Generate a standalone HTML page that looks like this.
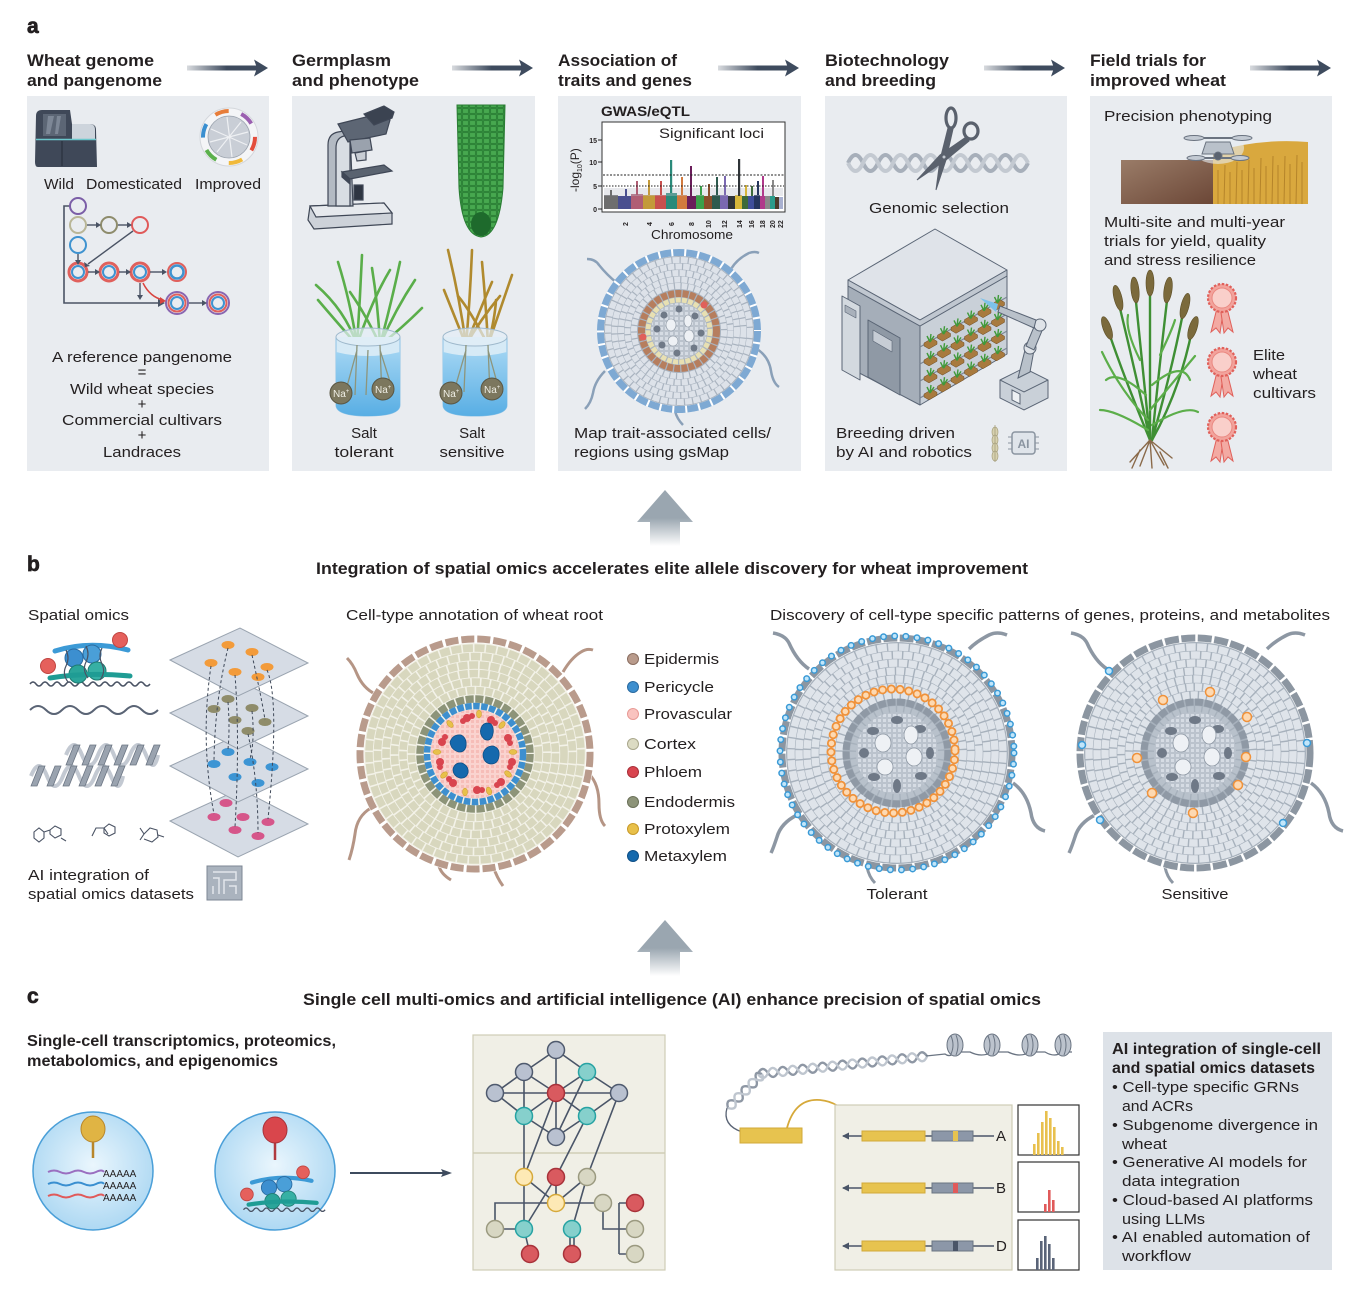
<!DOCTYPE html>
<html><head><meta charset="utf-8">
<style>
html,body{margin:0;padding:0;background:#fff;}
svg{display:block;}
text{font-family:"Liberation Sans",Arial,sans-serif;fill:#231f20;}
.h{font-weight:bold;font-size:17px;}
.t{font-size:15px;}
.s{font-size:13px;}
.L{font-weight:bold;font-size:21px;stroke:#231f20;stroke-width:0.7px;}
.tk{font-size:7px;font-weight:bold;}
</style></head><body>
<svg width="1365" height="1300" viewBox="0 0 1365 1300" xmlns="http://www.w3.org/2000/svg">
<defs>
 <linearGradient id="ag" x1="0" x2="1" y1="0" y2="0"><stop offset="0" stop-color="#3e4b5e" stop-opacity="0.2"/><stop offset="0.55" stop-color="#3e4b5e"/></linearGradient>
 <linearGradient id="ug" x1="0" y1="0" x2="0" y2="1"><stop offset="0.5" stop-color="#9aa6b0"/><stop offset="1" stop-color="#9aa6b0" stop-opacity="0"/></linearGradient>
 <linearGradient id="water" x1="0" y1="0" x2="0" y2="1"><stop offset="0" stop-color="#9fd3f2"/><stop offset="1" stop-color="#58aee4"/></linearGradient>
 <linearGradient id="soil" x1="0" y1="0" x2="1" y2="1"><stop offset="0" stop-color="#9a7c68"/><stop offset="1" stop-color="#6b4636"/></linearGradient>
 <radialGradient id="cellg" cx="0.5" cy="0.45" r="0.6"><stop offset="0" stop-color="#eaf6fd"/><stop offset="1" stop-color="#a9d6f2"/></radialGradient>
 <pattern id="mesh" width="5" height="5" patternUnits="userSpaceOnUse"><rect width="5" height="5" fill="#f6bdb8"/><rect x="0.5" y="0.5" width="4" height="4" fill="none" stroke="#fbd9d5" stroke-width="0.8"/></pattern>
 <pattern id="gmesh" width="5" height="5" patternUnits="userSpaceOnUse"><rect width="5" height="5" fill="#d6dce4"/><rect x="0.5" y="0.5" width="4" height="4" fill="none" stroke="#aab3bf" stroke-width="0.6"/></pattern>
 <pattern id="grn" width="7" height="6" patternUnits="userSpaceOnUse"><rect width="7" height="6" fill="#47a84f"/><rect x="0.6" y="0.6" width="5.8" height="4.8" fill="none" stroke="#2a7d34" stroke-width="0.9"/></pattern>
 <g id="ha"><rect x="0" y="-2.5" width="72" height="5" fill="url(#ag)"/><path d="M67,-8.5 L81,0 L67,8.5 L70,0Z" fill="#3e4b5e"/></g>
 <g id="pot"><path d="M0,0 l8,-4.6 l5,2.9 l0,3 l-8,4.6 l-5,-2.9z" fill="#a87a3e" stroke="#6e4a22" stroke-width="0.5"/><path d="M6,-1 l-3,-6 M6,-1 l1,-8 M6,-1 l4,-6" stroke="#3f9a3a" stroke-width="1.4" fill="none"/></g>
 <g id="ros">
  <path d="M-4,6 L-11,34 L-6,30 L-2,35 L2,8Z" fill="#f3aaa3" stroke="#e0605a" stroke-width="1"/>
  <path d="M4,6 L11,34 L6,30 L2,35 L-2,8Z" fill="#f3aaa3" stroke="#e0605a" stroke-width="1"/>
  <circle r="14" fill="#f2a39c" stroke="#e0605a" stroke-width="2.2" stroke-dasharray="2.5 1.6"/>
  <circle r="10" fill="#f9cfca" stroke="#ea8880" stroke-width="1"/>
 </g>
 <g id="groot">
  <path d="M-88,-84 Q-100,-92 -108,-110 Q-112,-118 -124,-120" stroke="#8d97a3" stroke-width="3.5" fill="none"/>
  <path d="M72,-104 Q80,-112 92,-118 Q100,-122 110,-118" stroke="#8d97a3" stroke-width="3.5" fill="none"/>
  <path d="M116,30 Q130,40 134,60 Q136,75 148,78" stroke="#8d97a3" stroke-width="3.5" fill="none"/>
  <path d="M-100,62 Q-116,70 -120,84 Q-124,96 -126,100" stroke="#8d97a3" stroke-width="3.5" fill="none"/>
  <path d="M-30,114 Q-28,124 -22,130" stroke="#8d97a3" stroke-width="3" fill="none"/>
  <circle r="119" fill="#fff"/>
  <circle r="115" fill="none" stroke="#8c96a1" stroke-width="7" stroke-dasharray="14 2.5"/>
  <circle r="111" fill="#a7b1bc"/>
  <circle r="106" fill="none" stroke="#dfe4ea" stroke-width="7.4" stroke-dasharray="9.5 1.4"/>
  <circle r="98" fill="none" stroke="#dfe4ea" stroke-width="7.4" stroke-dasharray="9 1.4"/>
  <circle r="90" fill="none" stroke="#dfe4ea" stroke-width="7.4" stroke-dasharray="8.5 1.4"/>
  <circle r="82" fill="none" stroke="#dfe4ea" stroke-width="7.4" stroke-dasharray="8 1.4"/>
  <circle r="74" fill="none" stroke="#dfe4ea" stroke-width="7.4" stroke-dasharray="7.5 1.4"/>
  <circle r="66" fill="none" stroke="#dfe4ea" stroke-width="7.4" stroke-dasharray="7 1.4"/>
  <circle r="58" fill="none" stroke="#dfe4ea" stroke-width="7.4" stroke-dasharray="7 1.4"/>
  <circle r="51" fill="none" stroke="#8f99a5" stroke-width="7" stroke-dasharray="8 1.6"/>
  <circle r="44" fill="none" stroke="#b8c1cb" stroke-width="6" stroke-dasharray="6 1.4"/>
  <circle r="41" fill="url(#gmesh)"/>
  <g fill="#6f7987">
   <ellipse cx="0" cy="-33" rx="6" ry="4"/><ellipse cx="23" cy="-24" rx="6" ry="4"/><ellipse cx="33" cy="0" rx="4" ry="6"/><ellipse cx="24" cy="23" rx="6" ry="4"/><ellipse cx="0" cy="33" rx="4" ry="7"/><ellipse cx="-23" cy="24" rx="6" ry="4"/><ellipse cx="-33" cy="0" rx="5" ry="5"/><ellipse cx="-24" cy="-22" rx="6" ry="4"/>
  </g>
  <g fill="#eef1f5" stroke="#8d97a3" stroke-width="0.8">
   <ellipse cx="-14" cy="-10" rx="8" ry="9"/><ellipse cx="14" cy="-18" rx="7" ry="9"/><ellipse cx="17" cy="4" rx="8" ry="9"/><ellipse cx="-12" cy="14" rx="8" ry="8"/>
  </g>
 </g>
</defs>

<rect width="1365" height="1300" fill="#fff"/>

<!-- ================= PANEL A ================= -->
<text x="27" y="33" class="L">a</text>

<text x="27" y="66" class="h" textLength="127" lengthAdjust="spacingAndGlyphs">Wheat genome</text>
<text x="27" y="86" class="h" textLength="135" lengthAdjust="spacingAndGlyphs">and pangenome</text>
<text x="292" y="66" class="h" textLength="99" lengthAdjust="spacingAndGlyphs">Germplasm</text>
<text x="292" y="86" class="h" textLength="127" lengthAdjust="spacingAndGlyphs">and phenotype</text>
<text x="558" y="66" class="h" textLength="119" lengthAdjust="spacingAndGlyphs">Association of</text>
<text x="558" y="86" class="h" textLength="134" lengthAdjust="spacingAndGlyphs">traits and genes</text>
<text x="825" y="66" class="h" textLength="124" lengthAdjust="spacingAndGlyphs">Biotechnology</text>
<text x="825" y="86" class="h" textLength="111" lengthAdjust="spacingAndGlyphs">and breeding</text>
<text x="1090" y="66" class="h" textLength="116" lengthAdjust="spacingAndGlyphs">Field trials for</text>
<text x="1090" y="86" class="h" textLength="136" lengthAdjust="spacingAndGlyphs">improved wheat</text>

<use href="#ha" transform="translate(187,68)"/>
<use href="#ha" transform="translate(452,68)"/>
<use href="#ha" transform="translate(718,68)"/>
<use href="#ha" transform="translate(984,68)"/>
<use href="#ha" transform="translate(1250,68)"/>

<rect x="27" y="96" width="242" height="375" fill="#e9ecf0"/>
<rect x="292" y="96" width="243" height="375" fill="#e9ecf0"/>
<rect x="558" y="96" width="243" height="375" fill="#e9ecf0"/>
<rect x="825" y="96" width="242" height="375" fill="#e9ecf0"/>
<rect x="1090" y="96" width="242" height="375" fill="#e9ecf0"/>

<!-- Box 1 -->
<path d="M36,116 Q36,110 42,110 L70,110 L72,124 L90,124 Q96,124 96,130 L97,167 L38,167 Q35,167 35,162 Z" fill="#3f4858"/>
<path d="M43,114 L66,114 L66,136 L43,136Z" fill="#5c6675"/>
<path d="M48,116 L54,116 L50,134 L46,134Z M57,116 L61,116 L58,134 L55,134Z" fill="#7d8796"/>
<path d="M72,124 L90,124 Q95,124 95,130 L95,139 L72,139Z" fill="#cdd4dc"/>
<line x1="36" y1="139.5" x2="96" y2="139.5" stroke="#6cc7cc" stroke-width="1.6"/>
<line x1="62" y1="141" x2="62" y2="166" stroke="#2a313d" stroke-width="1.2"/>

<g transform="translate(229,137)">
 <circle r="29" fill="#f4f5f7" stroke="#d4d7dc"/>
 <circle r="26" fill="none" stroke="#e34d3c" stroke-width="4" stroke-dasharray="14 149"/>
 <circle r="26" fill="none" stroke="#f0b93a" stroke-width="4" stroke-dasharray="14 149" stroke-dashoffset="-27"/>
 <circle r="26" fill="none" stroke="#5bb04c" stroke-width="4" stroke-dasharray="14 149" stroke-dashoffset="-54"/>
 <circle r="26" fill="none" stroke="#3a8fd0" stroke-width="4" stroke-dasharray="14 149" stroke-dashoffset="-81"/>
 <circle r="26" fill="none" stroke="#e77d3a" stroke-width="4" stroke-dasharray="14 149" stroke-dashoffset="-108"/>
 <circle r="26" fill="none" stroke="#9a5fb0" stroke-width="4" stroke-dasharray="14 149" stroke-dashoffset="-135"/>
 <circle r="21" fill="#c9ced6" stroke="#9aa2ad" stroke-width="0.8"/>
 <path d="M-18,-8 L18,8 M-12,15 L12,-15 M-2,-20 L3,20 M-19,5 L19,-5" stroke="#eef0f3" stroke-width="1.2"/>
</g>

<text x="44" y="189" class="t" textLength="30" lengthAdjust="spacingAndGlyphs">Wild</text>
<text x="86" y="189" class="t" textLength="96" lengthAdjust="spacingAndGlyphs">Domesticated</text>
<text x="195" y="189" class="t" textLength="66" lengthAdjust="spacingAndGlyphs">Improved</text>

<!-- pangenome circles -->
<g fill="none" stroke-width="2">
 <path d="M70,206 L64,206 L64,303 L162,303" stroke="#4a5364" stroke-width="1.6"/>
 <path d="M158,299 L165,303 L158,307Z" fill="#4a5364" stroke="none"/>
 <circle cx="78" cy="206" r="8" stroke="#7b5ea7"/>
 <circle cx="78" cy="225" r="8" stroke="#b9b697"/>
 <circle cx="109" cy="225" r="8" stroke="#8e8c6c"/>
 <circle cx="140" cy="225" r="8" stroke="#e05a5a"/>
 <circle cx="78" cy="245" r="8" stroke="#3f93d0"/>
 <g>
  <circle cx="78" cy="272" r="9" stroke="#e0605c" stroke-width="3"/><circle cx="78" cy="272" r="6" stroke="#3f93d0"/>
  <circle cx="109" cy="272" r="9" stroke="#e0605c" stroke-width="3"/><circle cx="109" cy="272" r="6" stroke="#3f93d0"/>
  <circle cx="140" cy="272" r="9" stroke="#e0605c" stroke-width="3"/><circle cx="140" cy="272" r="6" stroke="#3f93d0"/>
  <circle cx="177" cy="272" r="9" stroke="#e0605c" stroke-width="2"/><circle cx="177" cy="272" r="6.5" stroke="#3f93d0" stroke-width="2.5"/>
  <circle cx="177" cy="303" r="11" stroke="#8a66b0" stroke-width="2"/><circle cx="177" cy="303" r="8.5" stroke="#e0605c" stroke-width="2"/><circle cx="177" cy="303" r="6" stroke="#3f93d0" stroke-width="2"/>
  <circle cx="218" cy="303" r="11" stroke="#8a66b0" stroke-width="2"/><circle cx="218" cy="303" r="8.5" stroke="#e0605c" stroke-width="2"/><circle cx="218" cy="303" r="6" stroke="#3f93d0" stroke-width="2"/>
 </g>
 <g stroke="#4a5364" stroke-width="1.4">
  <line x1="87" y1="225" x2="97" y2="225"/><line x1="118" y1="225" x2="128" y2="225"/>
  <line x1="133" y1="231" x2="88" y2="264"/>
  <line x1="78" y1="254" x2="78" y2="261"/>
  <line x1="88" y1="272" x2="96" y2="272"/><line x1="119" y1="272" x2="127" y2="272"/><line x1="150" y1="272" x2="163" y2="272"/>
  <line x1="140" y1="283" x2="140" y2="296"/>
  <line x1="189" y1="303" x2="203" y2="303"/>
 </g>
 <g fill="#4a5364" stroke="none">
  <path d="M96,222 L101,225 L96,228Z"/><path d="M127,222 L132,225 L127,228Z"/>
  <path d="M84,262 L90,266 L85,267Z"/><path d="M75,260 L78,265 L81,260Z"/>
  <path d="M95,269 L100,272 L95,275Z"/><path d="M126,269 L131,272 L126,275Z"/><path d="M162,269 L167,272 L162,275Z"/>
  <path d="M137,295 L140,300 L143,295Z"/><path d="M202,300 L207,303 L202,306Z"/>
 </g>
 <path d="M143,283 Q150,297 163,300" stroke="#d9443f" stroke-width="1.5"/>
 <path d="M160,297 L166,301 L160,304Z" fill="#d9443f" stroke="none"/>
</g>

<g class="t" text-anchor="middle">
 <text x="142" y="362" textLength="180" lengthAdjust="spacingAndGlyphs">A reference pangenome</text>
 <text x="142" y="377">=</text>
 <text x="142" y="394" textLength="144" lengthAdjust="spacingAndGlyphs">Wild wheat species</text>
 <text x="142" y="409">+</text>
 <text x="142" y="425" textLength="160" lengthAdjust="spacingAndGlyphs">Commercial cultivars</text>
 <text x="142" y="440">+</text>
 <text x="142" y="457" textLength="78" lengthAdjust="spacingAndGlyphs">Landraces</text>
</g>

<!-- Box 2 microscope -->
<g stroke="#3f4756" stroke-width="1.2">
 <path d="M310,206 L384,203 L392,213 L392,224 L314,229 L308,220 Z" fill="#cdd2d9"/>
 <path d="M310,206 L384,203 L392,213 L316,217Z" fill="#e6e9ed"/>
 <path d="M328,206 L328,145 Q328,134 338,132 L350,130 L353,206Z" fill="#b3bac3"/>
 <path d="M336,206 L336,148 Q336,138 344,136 L350,136 L350,206Z" fill="#d8dde3"/>
 <path d="M338,124 L378,114 L390,120 L386,134 L348,142 Z" fill="#5d6674"/>
 <path d="M364,114 L384,106 L394,112 L392,118 L374,125Z" fill="#3b4351"/>
 <path d="M350,140 L370,138 L372,150 L352,153Z" fill="#9aa2ad"/>
 <path d="M355,153 L366,151 L366,160 L357,161Z" fill="#c8cdd4"/>
 <path d="M342,172 L384,165 L392,171 L350,179 Z" fill="#5a6370"/>
 <path d="M342,172 L350,179 L350,184 L342,177Z" fill="#3f4756"/>
 <rect x="354" y="185" width="9" height="15" fill="#2e3542"/>
</g>

<!-- root tip -->
<path d="M457,105 L505,105 L503,188 Q499,236 481,237 Q462,235 459,188 Z" fill="url(#grn)" stroke="#2a7d34" stroke-width="1"/>
<ellipse cx="481" cy="224" rx="10" ry="12" fill="#1e6a2c"/>

<!-- plants -->
<g fill="none" stroke-linecap="round">
 <g stroke="#5aae4a" stroke-width="2.6">
  <path d="M357,345 Q350,300 338,262"/><path d="M357,345 Q345,310 316,285"/><path d="M357,345 Q360,300 362,255"/><path d="M357,345 Q372,300 390,270"/><path d="M357,345 Q335,320 318,300"/>
  <path d="M380,345 Q378,305 372,268"/><path d="M380,345 Q395,310 415,280"/><path d="M380,345 Q392,300 400,262"/><path d="M380,345 Q400,330 422,308"/><path d="M380,345 Q366,315 350,292"/>
 </g>
 <g stroke="#b08a2e" stroke-width="2.6">
  <path d="M466,345 Q460,300 448,250"/><path d="M466,345 Q452,310 444,290"/><path d="M466,345 Q470,300 472,250"/><path d="M466,345 Q480,310 492,282"/><path d="M466,345 Q480,320 500,296"/>
  <path d="M488,345 Q486,305 482,262"/><path d="M488,345 Q500,310 512,275"/><path d="M488,345 Q470,310 458,296"/><path d="M488,345 Q495,318 496,300"/>
 </g>
</g>
<g>
 <path d="M336,337 L336,405 Q336,416 368,416 Q400,416 400,405 L400,337" fill="#d6eaf6" stroke="#8fc3e6" stroke-width="1"/>
 <path d="M336,352 Q368,360 400,352 L400,405 Q400,416 368,416 Q336,416 336,405Z" fill="url(#water)"/>
 <ellipse cx="368" cy="337" rx="32" ry="9" fill="#e3eef6" fill-opacity="0.7" stroke="#9fb9cc"/>
 <path d="M357,345 L355,395 M357,350 L346,390 M380,345 L382,398 M380,350 L392,388 M368,350 L366,395" stroke="#8d957c" stroke-width="1.3" fill="none"/>
 <path d="M443,337 L443,405 Q443,416 475,416 Q507,416 507,405 L507,337" fill="#d6eaf6" stroke="#8fc3e6" stroke-width="1"/>
 <path d="M443,352 Q475,360 507,352 L507,405 Q507,416 475,416 Q443,416 443,405Z" fill="url(#water)"/>
 <ellipse cx="475" cy="337" rx="32" ry="9" fill="#e3eef6" fill-opacity="0.7" stroke="#9fb9cc"/>
 <path d="M466,345 L464,392 M466,350 L455,388 M488,345 L490,395 M488,350 L498,386" stroke="#8d957c" stroke-width="1.3" fill="none"/>
 <g fill="#7c775e" stroke="#5a5643" stroke-width="1">
  <circle cx="341" cy="393" r="11"/><circle cx="383" cy="389" r="11"/><circle cx="451" cy="393" r="11"/><circle cx="492" cy="389" r="11"/>
 </g>
 <g font-size="10" style="fill:#f0efe6">
  <text x="333" y="397" style="fill:#f0efe6">Na<tspan font-size="6" dy="-4">+</tspan></text>
  <text x="375" y="393" style="fill:#f0efe6">Na<tspan font-size="6" dy="-4">+</tspan></text>
  <text x="443" y="397" style="fill:#f0efe6">Na<tspan font-size="6" dy="-4">+</tspan></text>
  <text x="484" y="393" style="fill:#f0efe6">Na<tspan font-size="6" dy="-4">+</tspan></text>
 </g>
</g>
<g class="t" text-anchor="middle">
 <text x="364" y="438">Salt</text><text x="364" y="457" textLength="59" lengthAdjust="spacingAndGlyphs">tolerant</text>
 <text x="472" y="438">Salt</text><text x="472" y="457" textLength="65" lengthAdjust="spacingAndGlyphs">sensitive</text>
</g>

<!-- Box 3 GWAS -->
<text x="601" y="116" font-weight="bold" font-size="14" textLength="89" lengthAdjust="spacingAndGlyphs">GWAS/eQTL</text>
<rect x="602" y="122" width="183" height="90" fill="#fff" stroke="#333" stroke-width="1"/>
<text x="659" y="138" font-size="14" textLength="105" lengthAdjust="spacingAndGlyphs">Significant loci</text>
<g>
 <rect x="604" y="195" width="14" height="14" fill="#6e6e6e"/><rect x="618" y="196" width="13" height="13" fill="#4a4f8f"/><rect x="631" y="194" width="12" height="15" fill="#b05e74"/><rect x="643" y="195" width="12" height="14" fill="#c39a3a"/><rect x="655" y="195" width="11" height="14" fill="#c8504e"/><rect x="666" y="193" width="11" height="16" fill="#2a8a7a"/><rect x="677" y="195" width="10" height="14" fill="#d27a3e"/><rect x="687" y="196" width="9" height="13" fill="#6a1d5a"/><rect x="696" y="195" width="8" height="14" fill="#3aa04a"/><rect x="704" y="196" width="8" height="13" fill="#8a4e2a"/><rect x="712" y="195" width="8" height="14" fill="#2e5a4e"/><rect x="720" y="195" width="8" height="14" fill="#7a68b0"/><rect x="728" y="196" width="7" height="13" fill="#2f3438"/><rect x="735" y="195" width="7" height="14" fill="#d6b63a"/><rect x="742" y="196" width="6" height="13" fill="#3d6a3a"/><rect x="748" y="196" width="6" height="13" fill="#3f4f9a"/><rect x="754" y="195" width="6" height="14" fill="#25365e"/><rect x="760" y="196" width="5" height="13" fill="#b03a8a"/><rect x="765" y="196" width="5" height="13" fill="#8a8a8a"/><rect x="770" y="196" width="5" height="13" fill="#2a9a8a"/><rect x="775" y="197" width="4" height="12" fill="#4a3a2a"/><rect x="779" y="197" width="4" height="12" fill="#a8b0d0"/>
 <rect x="604" y="188" width="179" height="8" fill="#b9bcc8" opacity="0.35"/>
 <rect x="610" y="190" width="2" height="6" fill="#6e6e6e"/><rect x="625" y="189" width="2" height="7" fill="#4a4f8f"/><rect x="636" y="181" width="2" height="14" fill="#b05e74"/><rect x="648" y="180" width="2" height="15" fill="#c39a3a"/><rect x="660" y="181" width="2" height="14" fill="#c8504e"/><rect x="670" y="160" width="2.2" height="33" fill="#2a8a7a"/><rect x="681" y="177" width="2" height="18" fill="#d27a3e"/><rect x="690" y="166" width="2" height="30" fill="#6a1d5a"/><rect x="700" y="186" width="2" height="9" fill="#3aa04a"/><rect x="708" y="184" width="2" height="12" fill="#8a4e2a"/><rect x="716" y="177" width="2" height="18" fill="#2e5a4e"/><rect x="724" y="176" width="2" height="19" fill="#7a68b0"/><rect x="738" y="159" width="2.2" height="37" fill="#2f3438"/><rect x="745" y="185" width="2" height="11" fill="#d6b63a"/><rect x="751" y="186" width="2" height="10" fill="#3d6a3a"/><rect x="757" y="181" width="2" height="14" fill="#25365e"/><rect x="762" y="176" width="2" height="20" fill="#b03a8a"/><rect x="772" y="180" width="2" height="16" fill="#8a8a8a"/>
 <line x1="603" y1="175" x2="784" y2="175" stroke="#222" stroke-width="1" stroke-dasharray="2 1.5"/>
 <line x1="603" y1="186" x2="784" y2="186" stroke="#222" stroke-width="1" stroke-dasharray="1.5 1.5"/>
</g>
<g class="tk" text-anchor="end">
 <text x="597" y="143">15</text><text x="597" y="165">10</text><text x="597" y="189">5</text><text x="597" y="212">0</text>
</g>
<g stroke="#222" stroke-width="1"><line x1="598" y1="140" x2="602" y2="140"/><line x1="598" y1="162" x2="602" y2="162"/><line x1="598" y1="186" x2="602" y2="186"/><line x1="598" y1="209" x2="602" y2="209"/></g>
<text transform="translate(579,192) rotate(-90)" font-size="12">-log<tspan font-size="7" dy="3">10</tspan><tspan dy="-3">(P)</tspan></text>
<g class="tk">
 <text transform="translate(628,226) rotate(-90)">2</text><text transform="translate(652,226) rotate(-90)">4</text><text transform="translate(674,226) rotate(-90)">6</text><text transform="translate(694,226) rotate(-90)">8</text><text transform="translate(711,228) rotate(-90)">10</text><text transform="translate(727,228) rotate(-90)">12</text><text transform="translate(742,228) rotate(-90)">14</text><text transform="translate(754,228) rotate(-90)">16</text><text transform="translate(765,228) rotate(-90)">18</text><text transform="translate(775,228) rotate(-90)">20</text><text transform="translate(783,228) rotate(-90)">22</text>
</g>
<text x="692" y="239" font-size="13" text-anchor="middle" textLength="82" lengthAdjust="spacingAndGlyphs">Chromosome</text>

<!-- box3 root -->
<g transform="translate(679,331)">
 <path d="M-62,-48 Q-72,-56 -80,-66 Q-84,-72 -92,-72" stroke="#8aa0b8" stroke-width="2.5" fill="none"/>
 <path d="M52,-62 Q58,-72 70,-78 Q76,-80 80,-78" stroke="#8aa0b8" stroke-width="2.5" fill="none"/>
 <path d="M78,18 Q90,26 92,40 Q94,52 100,56" stroke="#8aa0b8" stroke-width="2.5" fill="none"/>
 <path d="M-74,40 Q-84,50 -86,62 Q-88,72 -94,78" stroke="#8aa0b8" stroke-width="2.5" fill="none"/>
 <path d="M-4,80 Q-2,88 4,94" stroke="#8aa0b8" stroke-width="2.5" fill="none"/>
 <circle r="82" fill="#fff"/>
 <circle r="78.5" fill="none" stroke="#7ea9d3" stroke-width="7" stroke-dasharray="11 2"/>
 <circle r="75" fill="#a9b3bf"/>
 <circle r="71" fill="none" stroke="#dde2e9" stroke-width="6" stroke-dasharray="7 1.2"/>
 <circle r="64.5" fill="none" stroke="#dde2e9" stroke-width="6" stroke-dasharray="6.5 1.2"/>
 <circle r="58" fill="none" stroke="#dde2e9" stroke-width="6" stroke-dasharray="6 1.2"/>
 <circle r="51.5" fill="none" stroke="#dde2e9" stroke-width="6" stroke-dasharray="6 1.2"/>
 <circle r="45" fill="none" stroke="#dde2e9" stroke-width="6" stroke-dasharray="5.5 1.2"/>
 <circle r="37.5" fill="none" stroke="#b67e5e" stroke-width="7" stroke-dasharray="6 1.2"/>
 <circle r="31" fill="none" stroke="#e8e0b2" stroke-width="5" stroke-dasharray="5 1.2"/>
 <circle r="28" fill="url(#gmesh)"/>
 <g fill="#6f7987"><circle cx="0" cy="-22" r="3.5"/><circle cx="16" cy="-15" r="3.5"/><circle cx="22" cy="2" r="3.5"/><circle cx="15" cy="17" r="3.5"/><circle cx="-2" cy="22" r="3.5"/><circle cx="-17" cy="14" r="3.5"/><circle cx="-22" cy="-2" r="3.5"/><circle cx="-15" cy="-16" r="3.5"/></g>
 <g fill="#eef1f5" stroke="#8d97a3" stroke-width="0.6"><ellipse cx="-8" cy="-6" rx="5" ry="6"/><ellipse cx="9" cy="-10" rx="4" ry="6"/><ellipse cx="10" cy="5" rx="5" ry="6"/><ellipse cx="-6" cy="10" rx="5" ry="5"/></g>
 <circle cx="25" cy="-26" r="3.5" fill="#e0605a"/><circle cx="-36" cy="6" r="3.5" fill="#e0605a"/>
</g>
<text x="574" y="438" class="t" textLength="197" lengthAdjust="spacingAndGlyphs">Map trait-associated cells/</text>
<text x="574" y="457" class="t" textLength="155" lengthAdjust="spacingAndGlyphs">regions using gsMap</text>

<!-- Box 4 -->
<g fill="none" stroke="#a7afba" stroke-width="4">
 <path d="M848,163 q7.5,-16 15,0 t15,0 t15,0 t15,0 t15,0 t15,0 t15,0 t15,0 t15,0 t15,0 t15,0 t15,0"/>
 <path d="M848,163 q7.5,16 15,0 t15,0 t15,0 t15,0 t15,0 t15,0 t15,0 t15,0 t15,0 t15,0 t15,0 t15,0" stroke="#c3c9d1"/>
</g>
<g fill="#5a616d" stroke="#5a616d">
 <ellipse cx="951" cy="118" rx="5" ry="10" fill="none" stroke-width="3.2"/>
 <ellipse cx="971" cy="131" rx="7" ry="8" fill="none" stroke-width="3.2"/>
 <path d="M948,128 L953,129 L946,160 L936,190 L940,160Z" stroke-width="1"/>
 <path d="M966,137 L969,141 L946,160 L917,180 L940,155Z" stroke-width="1"/>
 <circle cx="944" cy="157" r="2" fill="#c3c9d1"/>
</g>
<text x="939" y="213" class="t" text-anchor="middle" textLength="140" lengthAdjust="spacingAndGlyphs">Genomic selection</text>

<g stroke="#5a6575" stroke-width="1" stroke-linejoin="round">
 <path d="M848,286 L920,326 L920,405 L848,367Z" fill="#a5aeb9"/>
 <path d="M842,296 L860,306 L860,380 L842,370Z" fill="#d3d9df"/>
 <path d="M845,305 L856,311 L856,318 L845,312Z" fill="#a9b1bb" stroke-width="0.6"/>
 <path d="M868,320 L900,338 L900,395 L868,377Z" fill="#8f99a5"/>
 <path d="M873,330 L892,341 L892,352 L873,341Z" fill="#c7cdd5" stroke-width="0.6"/>
 <path d="M920,326 L1007,276 L1007,354 L920,405Z" fill="#c9d0d8"/>
 <path d="M848,280 L935,229 L1007,270 L920,320Z" fill="#dfe3e9"/>
 <path d="M848,280 L920,320 L1007,270 L1007,276 L920,326 L848,286Z" fill="#c0c7d0"/>
</g>
<g stroke="#7c8794" stroke-width="1.2">
 <line x1="920" y1="347" x2="1007" y2="297"/><line x1="920" y1="364" x2="1007" y2="314"/><line x1="920" y1="381" x2="1007" y2="331"/><line x1="920" y1="398" x2="1007" y2="348"/>
</g>
<g transform="translate(924,343)"><use href="#pot"/><use href="#pot" x="13.5" y="-7.8"/><use href="#pot" x="27" y="-15.6"/><use href="#pot" x="40.5" y="-23.4"/><use href="#pot" x="54" y="-31.2"/><use href="#pot" x="67.5" y="-39"/></g>
<g transform="translate(924,360)"><use href="#pot"/><use href="#pot" x="13.5" y="-7.8"/><use href="#pot" x="27" y="-15.6"/><use href="#pot" x="40.5" y="-23.4"/><use href="#pot" x="54" y="-31.2"/><use href="#pot" x="67.5" y="-39"/></g>
<g transform="translate(924,377)"><use href="#pot"/><use href="#pot" x="13.5" y="-7.8"/><use href="#pot" x="27" y="-15.6"/><use href="#pot" x="40.5" y="-23.4"/><use href="#pot" x="54" y="-31.2"/><use href="#pot" x="67.5" y="-39"/></g>
<g transform="translate(924,394)"><use href="#pot"/><use href="#pot" x="13.5" y="-7.8"/><use href="#pot" x="27" y="-15.6"/><use href="#pot" x="40.5" y="-23.4"/><use href="#pot" x="54" y="-31.2"/><use href="#pot" x="67.5" y="-39"/></g>
<path d="M980,298 L998,304 L996,312Z" fill="#7cc2ea"/>
<g stroke="#5a6575" stroke-width="1" fill="#c9d0d8">
 <path d="M1000,380 L1024,368 L1048,380 L1048,398 L1024,410 L1000,398Z"/>
 <path d="M1000,380 L1024,392 L1048,380" fill="none"/>
 <path d="M1012,390 L1020,394 L1020,404 L1012,400Z" fill="#eef1f4"/>
 <path d="M1018,378 L1030,372 L1034,350 L1026,346Z" fill="#b9c1ca"/>
 <circle cx="1030" cy="348" r="6" fill="#dfe3e8"/>
 <path d="M1026,346 L1036,322 L1044,326 L1034,350Z" fill="#b9c1ca"/>
 <circle cx="1040" cy="325" r="6" fill="#dfe3e8"/>
 <path d="M1036,320 L1000,306 L998,312 L1034,328Z" fill="#b9c1ca"/>
</g>
<text x="836" y="438" class="t" textLength="119" lengthAdjust="spacingAndGlyphs">Breeding driven</text>
<text x="836" y="457" class="t" textLength="136" lengthAdjust="spacingAndGlyphs">by AI and robotics</text>
<g fill="#d7d1b0" stroke="#a69f7c" stroke-width="0.7">
 <ellipse cx="995" cy="432" rx="3" ry="5"/><ellipse cx="995" cy="440" rx="3" ry="5"/><ellipse cx="995" cy="448" rx="3" ry="5"/><ellipse cx="995" cy="456" rx="3" ry="5"/>
</g>
<line x1="995" y1="425" x2="995" y2="462" stroke="#a69f7c" stroke-width="0.8"/>
<rect x="1012" y="432" width="23" height="22" rx="3" fill="#dfe4ea" stroke="#8a94a0" stroke-width="1.5"/>
<g stroke="#8a94a0" stroke-width="1"><line x1="1008" y1="437" x2="1012" y2="437"/><line x1="1008" y1="443" x2="1012" y2="443"/><line x1="1008" y1="449" x2="1012" y2="449"/><line x1="1035" y1="437" x2="1039" y2="437"/><line x1="1035" y1="443" x2="1039" y2="443"/><line x1="1035" y1="449" x2="1039" y2="449"/></g>
<text x="1023.5" y="448" text-anchor="middle" font-size="12" font-weight="bold" style="fill:#8a94a0">AI</text>

<!-- Box 5 -->
<text x="1104" y="121" class="t" textLength="168" lengthAdjust="spacingAndGlyphs">Precision phenotyping</text>
<rect x="1121" y="160" width="95" height="44" fill="url(#soil)"/>
<path d="M1213,152 Q1260,138 1308,142 L1308,204 L1213,204Z" fill="#d9a83e"/>
<g stroke="#b5842a" stroke-width="1">
 <path d="M1218,204 L1218,170 M1224,204 L1225,165 M1230,204 L1230,172 M1236,204 L1237,162 M1242,204 L1242,170 M1248,204 L1249,160 M1254,204 L1254,168 M1260,204 L1261,158 M1266,204 L1266,166 M1272,204 L1273,156 M1278,204 L1278,165 M1284,204 L1285,156 M1290,204 L1290,164 M1296,204 L1297,155 M1302,204 L1302,162"/>
</g>
<g stroke="#6a7380" stroke-width="1">
 <ellipse cx="1218" cy="148" rx="26" ry="16" fill="#e6ecf2" fill-opacity="0.6" stroke="none"/>
 <path d="M1198,138 L1238,138 M1200,158 L1236,158" stroke-width="2"/>
 <ellipse cx="1194" cy="138" rx="10" ry="2.5" fill="#c3cad3"/><ellipse cx="1242" cy="138" rx="10" ry="2.5" fill="#c3cad3"/>
 <ellipse cx="1196" cy="158" rx="9" ry="2.5" fill="#c3cad3"/><ellipse cx="1240" cy="158" rx="9" ry="2.5" fill="#c3cad3"/>
 <path d="M1206,142 L1230,142 L1234,154 L1202,154Z" fill="#b9c1ca"/>
 <circle cx="1218" cy="156" r="4" fill="#5a6370"/>
</g>
<text x="1104" y="227" class="t" textLength="181" lengthAdjust="spacingAndGlyphs">Multi-site and multi-year</text>
<text x="1104" y="246" class="t" textLength="162" lengthAdjust="spacingAndGlyphs">trials for yield, quality</text>
<text x="1104" y="265" class="t" textLength="152" lengthAdjust="spacingAndGlyphs">and stress resilience</text>

<g fill="none" stroke-linecap="round">
 <g stroke="#3f8f34" stroke-width="2.4">
  <path d="M1150,440 Q1135,370 1118,300"/><path d="M1150,440 Q1142,360 1135,292"/><path d="M1150,440 Q1150,360 1150,285"/><path d="M1152,440 Q1160,360 1168,292"/><path d="M1152,440 Q1172,370 1184,308"/><path d="M1150,440 Q1125,380 1108,330"/><path d="M1152,440 Q1180,390 1192,330"/>
 </g>
 <g stroke="#5cae4a" stroke-width="2.2">
  <path d="M1148,420 Q1120,390 1102,352"/><path d="M1150,410 Q1175,380 1195,356"/><path d="M1146,395 Q1118,370 1106,380"/><path d="M1152,385 Q1182,360 1190,380"/><path d="M1148,430 Q1115,410 1100,410"/><path d="M1152,425 Q1185,405 1198,412"/><path d="M1140,360 Q1125,330 1128,315"/><path d="M1160,355 Q1172,330 1175,320"/>
 </g>
 <g stroke="#8a6a4a" stroke-width="1.4">
  <path d="M1150,440 L1130,462 M1150,440 L1140,466 M1150,440 L1152,468 M1150,440 L1164,465 M1150,440 L1172,458 M1140,450 L1132,468 M1160,452 L1168,468"/>
 </g>
</g>
<g fill="#7b6a3c" stroke="#5b4c24" stroke-width="0.6">
 <ellipse cx="1118" cy="298" rx="4" ry="13" transform="rotate(-14 1118 298)"/>
 <ellipse cx="1135" cy="290" rx="4" ry="13" transform="rotate(-6 1135 290)"/>
 <ellipse cx="1150" cy="283" rx="4" ry="13"/>
 <ellipse cx="1168" cy="290" rx="4" ry="13" transform="rotate(8 1168 290)"/>
 <ellipse cx="1185" cy="306" rx="4" ry="13" transform="rotate(14 1185 306)"/>
 <ellipse cx="1107" cy="328" rx="4" ry="12" transform="rotate(-20 1107 328)"/>
 <ellipse cx="1193" cy="328" rx="4" ry="12" transform="rotate(18 1193 328)"/>
</g>
<use href="#ros" transform="translate(1222,298)"/>
<use href="#ros" transform="translate(1222,362)"/>
<use href="#ros" transform="translate(1222,427)"/>
<text x="1253" y="360" class="t" textLength="32" lengthAdjust="spacingAndGlyphs">Elite</text>
<text x="1253" y="379" class="t" textLength="44" lengthAdjust="spacingAndGlyphs">wheat</text>
<text x="1253" y="398" class="t" textLength="63" lengthAdjust="spacingAndGlyphs">cultivars</text>

<!-- up arrows -->
<path d="M665,490 L693,522 L680,522 L680,546 L650,546 L650,522 L637,522 Z" fill="url(#ug)"/>
<path d="M665,920 L693,952 L680,952 L680,976 L650,976 L650,952 L637,952 Z" fill="url(#ug)"/>

<!-- ================= PANEL B ================= -->
<text x="27" y="571" class="L">b</text>
<text x="316" y="574" class="h" textLength="712" lengthAdjust="spacingAndGlyphs">Integration of spatial omics accelerates elite allele discovery for wheat improvement</text>
<text x="28" y="620" class="t" textLength="101" lengthAdjust="spacingAndGlyphs">Spatial omics</text>
<text x="346" y="620" class="t" textLength="257" lengthAdjust="spacingAndGlyphs">Cell-type annotation of wheat root</text>
<text x="770" y="620" class="t" textLength="560" lengthAdjust="spacingAndGlyphs">Discovery of cell-type specific patterns of genes, proteins, and metabolites</text>

<!-- chromatin -->
<g>
 <path d="M30,684 q3,-4 6,0 t6,0 t6,0 t6,0 t6,0 t6,0 t6,0 t6,0 t6,0 t6,0 t6,0 t6,0 t6,0 t6,0 t6,0 t6,0 t6,0 t6,0 t6,0 t6,0" stroke="#4a5364" stroke-width="1.5" fill="none"/>
 <path d="M55,651 Q90,640 128,650" stroke="#3c9ad6" stroke-width="5" fill="none" stroke-linecap="round"/>
 <circle cx="74" cy="658" r="9" fill="#3c8fd0" stroke="#2a6aa0"/><circle cx="92" cy="654" r="9" fill="#4a9fd8" stroke="#2a6aa0"/>
 <circle cx="78" cy="674" r="9" fill="#2aa59a" stroke="#1e7a70"/><circle cx="97" cy="671" r="9" fill="#36b0a4" stroke="#1e7a70"/>
 <path d="M50,678 Q88,672 130,676" stroke="#1f9c94" stroke-width="5" fill="none" stroke-linecap="round"/>
 <path d="M66,650 q4,8 0,16 q-4,8 2,16 M86,646 q4,8 0,16 q-4,8 2,16 M102,648 q-4,8 0,16 q4,8 -2,16" stroke="#4a5364" stroke-width="1.2" fill="none"/>
 <circle cx="120" cy="640" r="7.5" fill="#e5605c" stroke="#c04440"/>
 <circle cx="48" cy="666" r="7.5" fill="#e5605c" stroke="#c04440"/>
</g>
<path d="M30,710 q8,-8 16,0 t16,0 t16,0 t16,0 t16,0 t16,0 t16,0 t16,0" stroke="#5a6475" stroke-width="2" fill="none"/>
<!-- helices -->
<g fill="none" stroke="#c3c9d2" stroke-width="4">
 <path d="M66,755 q8,-20 16,0 t16,0 t16,0 t16,0 t16,0 t12,0"/>
 <path d="M31,776 q8,-20 16,0 t16,0 t16,0 t16,0 t16,0 t12,0"/>
</g>
<g fill="#9aa3af" stroke="#6b7583" stroke-width="0.8">
 <path d="M66,765 L74,745 L80,745 L72,765Z M82,765 L90,745 L96,745 L88,765Z M98,765 L106,745 L112,745 L104,765Z M114,765 L122,745 L128,745 L120,765Z M130,765 L138,745 L144,745 L136,765Z M146,765 L154,745 L160,745 L152,765Z"/>
 <path d="M31,786 L39,766 L45,766 L37,786Z M47,786 L55,766 L61,766 L53,786Z M63,786 L71,766 L77,766 L69,786Z M79,786 L87,766 L93,766 L85,786Z M95,786 L103,766 L109,766 L101,786Z M111,786 L119,766 L125,766 L117,786Z"/>
</g>
<g fill="none" stroke="#4a5364" stroke-width="1.1">
 <path d="M34,832 l5,-4 l5,4 l0,6 l-5,4 l-5,-4z M44,832 l6,-2 M50,830 l5,-4 l6,3 l0,6 l-6,3 l-5,-4z M61,838 l5,3"/>
 <path d="M92,836 l4,-8 l8,0 l4,6 M104,828 l5,-4 l6,3 l0,6 l-6,3 l-5,-3z"/>
 <path d="M140,840 l4,-6 l-4,-6 M144,834 l6,-6 l7,2 l1,7 l-6,5 l-8,-3 M158,835 l6,2"/>
</g>
<!-- layers -->
<g fill="#d6dce5" stroke="#9aa4b0" stroke-width="1">
 <path d="M170,821 L240,789 L308,824 L238,857Z"/>
 <path d="M170,766 L240,734 L308,769 L238,802Z"/>
 <path d="M170,713 L240,681 L308,716 L238,749Z"/>
 <path d="M170,660 L240,628 L308,663 L238,696Z"/>
</g>
<g fill="#f39b3a"><ellipse cx="228" cy="645" rx="6.5" ry="4"/><ellipse cx="252" cy="652" rx="6.5" ry="4"/><ellipse cx="211" cy="663" rx="6.5" ry="4"/><ellipse cx="235" cy="672" rx="6.5" ry="4"/><ellipse cx="267" cy="667" rx="6.5" ry="4"/><ellipse cx="258" cy="677" rx="6.5" ry="4"/></g>
<g fill="#8f8c6a"><ellipse cx="228" cy="699" rx="6.5" ry="4"/><ellipse cx="214" cy="709" rx="6.5" ry="4"/><ellipse cx="252" cy="708" rx="6.5" ry="4"/><ellipse cx="235" cy="720" rx="6.5" ry="4"/><ellipse cx="265" cy="722" rx="6.5" ry="4"/><ellipse cx="248" cy="731" rx="6.5" ry="4"/></g>
<g fill="#3d95d4"><ellipse cx="228" cy="752" rx="6.5" ry="4"/><ellipse cx="214" cy="764" rx="6.5" ry="4"/><ellipse cx="250" cy="762" rx="6.5" ry="4"/><ellipse cx="272" cy="767" rx="6.5" ry="4"/><ellipse cx="235" cy="777" rx="6.5" ry="4"/><ellipse cx="258" cy="783" rx="6.5" ry="4"/></g>
<g fill="#d6568a"><ellipse cx="226" cy="803" rx="6.5" ry="4"/><ellipse cx="214" cy="817" rx="6.5" ry="4"/><ellipse cx="243" cy="817" rx="6.5" ry="4"/><ellipse cx="268" cy="822" rx="6.5" ry="4"/><ellipse cx="235" cy="830" rx="6.5" ry="4"/><ellipse cx="258" cy="836" rx="6.5" ry="4"/></g>
<g fill="none" stroke="#3e4858" stroke-width="1" stroke-dasharray="3 2.5">
 <path d="M228,648 Q215,700 214,760"/><path d="M252,655 Q262,700 265,720"/><path d="M211,666 Q200,740 214,814"/><path d="M235,675 Q240,740 235,827"/><path d="M267,670 Q280,700 268,819"/><path d="M248,734 Q258,780 258,833"/><path d="M228,702 Q230,730 228,749"/><path d="M252,711 Q255,740 250,759"/>
</g>
<text x="28" y="880" class="t" textLength="121" lengthAdjust="spacingAndGlyphs">AI integration of</text>
<text x="28" y="899" class="t" textLength="166" lengthAdjust="spacingAndGlyphs">spatial omics datasets</text>
<rect x="207" y="866" width="35" height="34" fill="#aab3be" stroke="#7d8794"/>
<path d="M213,872 L236,872 L236,880 L224,880 L224,894 M213,878 L219,878 L219,894 M229,886 L236,886 L236,894 M213,886 L213,894" stroke="#e2e6eb" stroke-width="1.5" fill="none"/>

<!-- root b -->
<g transform="translate(475,754)">
 <g stroke="#b59585" stroke-width="3" fill="none">
  <path d="M-100,-60 Q-112,-66 -118,-80 Q-122,-90 -128,-96"/>
  <path d="M88,-82 Q96,-96 106,-102 Q112,-106 118,-104"/>
  <path d="M114,20 Q124,30 124,50 Q124,66 130,72"/>
  <path d="M-104,54 Q-118,62 -120,80 Q-122,94 -126,106"/>
  <path d="M-36,112 Q-34,120 -24,126"/>
  <path d="M18,112 Q22,124 28,132"/>
 </g>
 <circle r="119" fill="#fff"/>
 <circle r="115" fill="none" stroke="#b99b8c" stroke-width="7" stroke-dasharray="13 3"/>
 <circle r="111" fill="#f3f2e8"/>
 <circle r="106" fill="none" stroke="#d8d7be" stroke-width="7.6" stroke-dasharray="10 1.6"/>
 <circle r="97.5" fill="none" stroke="#d8d7be" stroke-width="7.6" stroke-dasharray="9.5 1.6"/>
 <circle r="89" fill="none" stroke="#d8d7be" stroke-width="7.6" stroke-dasharray="9 1.6"/>
 <circle r="80.5" fill="none" stroke="#d8d7be" stroke-width="7.6" stroke-dasharray="8.5 1.6"/>
 <circle r="72" fill="none" stroke="#d8d7be" stroke-width="7.6" stroke-dasharray="8 1.6"/>
 <circle r="63.5" fill="none" stroke="#d8d7be" stroke-width="7.6" stroke-dasharray="7.5 1.6"/>
 <circle r="55" fill="none" stroke="#8d9479" stroke-width="7.5" stroke-dasharray="8 1.6"/>
 <circle r="48" fill="none" stroke="#3d8fcf" stroke-width="6.5" stroke-dasharray="6.5 1.5"/>
 <circle r="44.5" fill="url(#mesh)"/>
 <g fill="#d9454f">
  <circle cx="-8" cy="-36" r="4"/><circle cx="-3" cy="-38" r="3"/><circle cx="-12" cy="-33" r="3"/>
  <circle cx="16" cy="-34" r="4"/><circle cx="20" cy="-31" r="3"/>
  <circle cx="33" cy="-16" r="4"/><circle cx="35" cy="-11" r="3"/>
  <circle cx="37" cy="8" r="4"/><circle cx="35" cy="13" r="3"/>
  <circle cx="26" cy="28" r="4"/><circle cx="22" cy="31" r="3"/>
  <circle cx="2" cy="36" r="4"/><circle cx="7" cy="36" r="3"/>
  <circle cx="-22" cy="29" r="4"/><circle cx="-26" cy="25" r="3"/>
  <circle cx="-35" cy="8" r="4"/><circle cx="-35" cy="13" r="3"/>
  <circle cx="-33" cy="-12" r="4"/><circle cx="-30" cy="-17" r="3"/>
 </g>
 <g fill="#e8c04a" stroke="#c89a2a" stroke-width="0.5">
  <ellipse cx="4" cy="-40" rx="2.5" ry="4"/><ellipse cx="27" cy="-29" rx="2.5" ry="4" transform="rotate(40 27 -29)"/><ellipse cx="38" cy="-2" rx="4" ry="2.5"/><ellipse cx="33" cy="20" rx="2.5" ry="4" transform="rotate(-50 33 20)"/><ellipse cx="14" cy="37" rx="2.5" ry="4" transform="rotate(-20 14 37)"/><ellipse cx="-10" cy="38" rx="2.5" ry="4"/><ellipse cx="-31" cy="21" rx="2.5" ry="4" transform="rotate(50 -31 21)"/><ellipse cx="-38" cy="-2" rx="4" ry="2.5"/><ellipse cx="-25" cy="-30" rx="2.5" ry="4" transform="rotate(-40 -25 -30)"/>
 </g>
 <g fill="#1569ad" stroke="#0e4f86" stroke-width="0.8">
  <path d="M-25,-12 Q-22,-20 -14,-19 Q-8,-16 -9,-8 Q-10,-2 -16,-2 Q-24,-4 -25,-12Z"/>
  <path d="M6,-26 Q9,-33 16,-30 Q20,-25 17,-17 Q14,-12 9,-15 Q4,-20 6,-26Z"/>
  <path d="M8,0 Q10,-8 18,-8 Q25,-6 24,2 Q23,10 16,10 Q8,9 8,0Z"/>
  <path d="M-22,15 Q-20,8 -13,9 Q-6,12 -7,19 Q-9,25 -15,24 Q-22,22 -22,15Z"/>
 </g>
</g>

<!-- legend -->
<g stroke-width="1">
 <circle cx="633" cy="659" r="5.5" fill="#b99b8c" stroke="#8a6e60"/>
 <circle cx="633" cy="687" r="5.5" fill="#3d8fcf" stroke="#2a6aa0"/>
 <circle cx="633" cy="714" r="5.5" fill="#f9c3bf" stroke="#e89a95"/>
 <circle cx="633" cy="744" r="5.5" fill="#dcdbc3" stroke="#a9a78c"/>
 <circle cx="633" cy="772" r="5.5" fill="#d9454f" stroke="#a82f38"/>
 <circle cx="633" cy="802" r="5.5" fill="#8d9479" stroke="#6a7058"/>
 <circle cx="633" cy="829" r="5.5" fill="#e8c04a" stroke="#c89a2a"/>
 <circle cx="633" cy="856" r="5.5" fill="#1569ad" stroke="#0e4f86"/>
</g>
<g class="t">
 <text x="644" y="664" textLength="75" lengthAdjust="spacingAndGlyphs">Epidermis</text>
 <text x="644" y="692" textLength="70" lengthAdjust="spacingAndGlyphs">Pericycle</text>
 <text x="644" y="719" textLength="88" lengthAdjust="spacingAndGlyphs">Provascular</text>
 <text x="644" y="749" textLength="52" lengthAdjust="spacingAndGlyphs">Cortex</text>
 <text x="644" y="777" textLength="58" lengthAdjust="spacingAndGlyphs">Phloem</text>
 <text x="644" y="807" textLength="91" lengthAdjust="spacingAndGlyphs">Endodermis</text>
 <text x="644" y="834" textLength="86" lengthAdjust="spacingAndGlyphs">Protoxylem</text>
 <text x="644" y="861" textLength="83" lengthAdjust="spacingAndGlyphs">Metaxylem</text>
</g>

<!-- gray roots -->
<use href="#groot" transform="translate(897,753)"/>
<use href="#groot" transform="translate(1195,753)"/>
<g transform="translate(897,753)">
 <circle r="117" fill="none" stroke="#3a9ad6" stroke-width="7" stroke-dasharray="0 11.2" stroke-linecap="round"/>
 <circle r="117" fill="none" stroke="#c2e6fa" stroke-width="4" stroke-dasharray="0 11.2" stroke-linecap="round"/>
 <circle cx="-4" cy="-2" r="62" fill="none" stroke="#f0923a" stroke-width="9" stroke-dasharray="0 8.8" stroke-linecap="round"/>
 <circle cx="-4" cy="-2" r="62" fill="none" stroke="#fdd9b2" stroke-width="5.5" stroke-dasharray="0 8.8" stroke-linecap="round"/>
</g>
<g transform="translate(1195,753)" stroke-width="1.5">
 <g fill="#c2e6fa" stroke="#3a9ad6">
  <circle cx="-86" cy="-82" r="3.5"/><circle cx="-113" cy="-8" r="3.5"/><circle cx="112" cy="-10" r="3.5"/><circle cx="-95" cy="67" r="3.5"/><circle cx="88" cy="70" r="3.5"/>
 </g>
 <g fill="#fdd9b2" stroke="#f0923a">
  <circle cx="-32" cy="-53" r="4.5"/><circle cx="15" cy="-61" r="4.5"/><circle cx="52" cy="-36" r="4.5"/><circle cx="-58" cy="5" r="4.5"/><circle cx="51" cy="4" r="4.5"/><circle cx="-43" cy="40" r="4.5"/><circle cx="43" cy="32" r="4.5"/><circle cx="-2" cy="60" r="4.5"/>
 </g>
</g>
<text x="897" y="899" class="t" text-anchor="middle" textLength="61" lengthAdjust="spacingAndGlyphs">Tolerant</text>
<text x="1195" y="899" class="t" text-anchor="middle" textLength="67" lengthAdjust="spacingAndGlyphs">Sensitive</text>

<!-- ================= PANEL C ================= -->
<text x="27" y="1003" class="L">c</text>
<text x="303" y="1005" class="h" textLength="738" lengthAdjust="spacingAndGlyphs">Single cell multi-omics and artificial intelligence (AI) enhance precision of spatial omics</text>
<text x="27" y="1046" font-size="16" font-weight="bold" textLength="309" lengthAdjust="spacingAndGlyphs">Single-cell transcriptomics, proteomics,</text>
<text x="27" y="1066" font-size="16" font-weight="bold" textLength="251" lengthAdjust="spacingAndGlyphs">metabolomics, and epigenomics</text>

<ellipse cx="93" cy="1171" rx="60" ry="59" fill="url(#cellg)" stroke="#4a9fd8" stroke-width="1.5"/>
<line x1="93" y1="1137" x2="93" y2="1158" stroke="#b8862a" stroke-width="2.5"/>
<ellipse cx="93" cy="1129" rx="12" ry="13" fill="#e0b444" stroke="#b8862a"/>
<g fill="none" stroke-width="2">
 <path d="M48,1172 q6,-3 12,0 t12,0 t12,0 t12,0 t8,0" stroke="#9a6fc0"/>
 <path d="M48,1184 q6,-3 12,0 t12,0 t12,0 t12,0 t8,0" stroke="#3a8fd0"/>
 <path d="M48,1196 q6,-3 12,0 t12,0 t12,0 t12,0 t8,0" stroke="#e05a5a"/>
</g>
<g font-size="10"><text x="103" y="1177">AAAAA</text><text x="103" y="1189">AAAAA</text><text x="103" y="1201">AAAAA</text></g>

<ellipse cx="275" cy="1171" rx="60" ry="59" fill="url(#cellg)" stroke="#4a9fd8" stroke-width="1.5"/>
<line x1="275" y1="1140" x2="275" y2="1160" stroke="#b03a40" stroke-width="2.5"/>
<ellipse cx="275" cy="1130" rx="12" ry="13" fill="#d9464c" stroke="#a8323a"/>
<g transform="translate(218,1140) scale(0.85)">
 <path d="M30,82 q3,-4 6,0 t6,0 t6,0 t6,0 t6,0 t6,0 t6,0 t6,0 t6,0 t6,0 t6,0 t6,0 t6,0 t6,0 t6,0 t6,0" stroke="#4a5364" stroke-width="1.5" fill="none"/>
 <path d="M40,50 Q75,40 110,48" stroke="#3c9ad6" stroke-width="5" fill="none" stroke-linecap="round"/>
 <circle cx="60" cy="56" r="9" fill="#3c8fd0" stroke="#2a6aa0"/><circle cx="78" cy="52" r="9" fill="#4a9fd8" stroke="#2a6aa0"/>
 <circle cx="64" cy="72" r="9" fill="#2aa59a" stroke="#1e7a70"/><circle cx="83" cy="69" r="9" fill="#36b0a4" stroke="#1e7a70"/>
 <path d="M36,76 Q74,70 116,74" stroke="#1f9c94" stroke-width="5" fill="none" stroke-linecap="round"/>
 <circle cx="100" cy="38" r="7.5" fill="#e5605c" stroke="#c04440"/>
 <circle cx="34" cy="64" r="7.5" fill="#e5605c" stroke="#c04440"/>
</g>
<line x1="350" y1="1173" x2="445" y2="1173" stroke="#3e4b5e" stroke-width="2"/>
<path d="M441,1169 L452,1173 L441,1177 L443,1173Z" fill="#3e4b5e"/>

<!-- network -->
<rect x="473" y="1035" width="192" height="235" fill="#f0efe6" stroke="#cfcdb6" stroke-width="1.2"/>
<line x1="473" y1="1153" x2="665" y2="1153" stroke="#cfcdb6" stroke-width="1.5"/>
<g stroke="#4a5568" stroke-width="1.6" fill="none">
 <path d="M556,1050 L524,1072 M556,1050 L587,1072 M556,1050 L556,1093 M524,1072 L495,1093 M524,1072 L556,1093 M587,1072 L556,1093 M587,1072 L619,1093 M495,1093 L619,1093 M495,1093 L524,1116 M556,1093 L524,1116 M556,1093 L587,1116 M556,1093 L556,1137 M619,1093 L587,1116 M524,1116 L556,1137 M587,1116 L556,1137 M587,1072 L556,1137"/>
 <path d="M524,1072 L524,1229 M556,1093 L524,1177 M587,1116 L556,1177 M556,1177 L524,1229 M619,1093 L587,1177 M587,1177 L572,1229"/>
 <path d="M524,1177 L556,1203 M556,1177 L556,1203 M587,1177 L556,1203 M556,1203 L603,1203 M495,1229 L495,1203 L556,1203 M495,1229 L524,1229 M524,1229 L530,1254 M570,1229 L570,1254 M574,1229 L574,1254"/>
 <path d="M603,1203 L603,1229 L619,1229 M619,1203 L619,1254 M619,1203 L635,1203 M619,1229 L635,1229 M619,1254 L635,1254"/>
</g>
<g stroke-width="1.5">
 <g fill="#b9c1d0" stroke="#4f5a6e"><circle cx="556" cy="1050" r="8.5"/><circle cx="524" cy="1072" r="8.5"/><circle cx="495" cy="1093" r="8.5"/><circle cx="619" cy="1093" r="8.5"/><circle cx="556" cy="1137" r="8.5"/></g>
 <g fill="#86d0cc" stroke="#27a3a3"><circle cx="587" cy="1072" r="8.5"/><circle cx="524" cy="1116" r="8.5"/><circle cx="587" cy="1116" r="8.5"/><circle cx="524" cy="1229" r="8.5"/><circle cx="572" cy="1229" r="8.5"/></g>
 <g fill="#d95a5f" stroke="#a8323a"><circle cx="556" cy="1093" r="8.5"/><circle cx="556" cy="1177" r="8.5"/><circle cx="635" cy="1203" r="8.5"/><circle cx="530" cy="1254" r="8.5"/><circle cx="572" cy="1254" r="8.5"/></g>
 <g fill="#fde9b5" stroke="#d6a93a"><circle cx="524" cy="1177" r="8.5"/><circle cx="556" cy="1203" r="8.5"/></g>
 <g fill="#d8d7c3" stroke="#9b9a80"><circle cx="587" cy="1177" r="8.5"/><circle cx="603" cy="1203" r="8.5"/><circle cx="495" cy="1229" r="8.5"/><circle cx="635" cy="1229" r="8.5"/><circle cx="635" cy="1254" r="8.5"/></g>
</g>

<!-- DNA & genes -->
<g fill="none" stroke="#8e97a4" stroke-width="2.4">
 <g transform="translate(758,1074) rotate(-6)">
  <path d="M0,0 q5,-9 10,0 t10,0 t10,0 t10,0 t10,0 t10,0 t10,0 t10,0 t10,0 t10,0 t10,0 t10,0 t10,0 t10,0 t10,0 t10,0 t10,0"/>
  <path d="M0,0 q5,9 10,0 t10,0 t10,0 t10,0 t10,0 t10,0 t10,0 t10,0 t10,0 t10,0 t10,0 t10,0 t10,0 t10,0 t10,0 t10,0 t10,0" stroke="#bfc6cf"/>
 </g>
 <g transform="translate(728,1108) rotate(-45)">
  <path d="M0,0 q5,-9 10,0 t10,0 t10,0 t10,0 t8,0"/>
  <path d="M0,0 q5,9 10,0 t10,0 t10,0 t10,0 t8,0" stroke="#bfc6cf"/>
 </g>
 <path d="M727,1108 Q722,1125 742,1132" stroke="#5a6475" stroke-width="1.3"/>
 <path d="M926,1056 L945,1054 Q950,1058 955,1052 L970,1052 Q982,1058 992,1052 L1008,1052 Q1020,1058 1030,1052 L1045,1052 Q1055,1058 1062,1052 L1072,1052" stroke="#6a7482" stroke-width="1.3"/>
</g>
<g fill="#bcc3cd" stroke="#6a7482" stroke-width="1">
 <ellipse cx="955" cy="1045" rx="8" ry="11"/><ellipse cx="992" cy="1045" rx="8" ry="11"/><ellipse cx="1030" cy="1045" rx="8" ry="11"/><ellipse cx="1063" cy="1045" rx="8" ry="11"/>
 <path d="M951,1036 q4,9 0,18 M956,1035 q4,10 0,20 M988,1036 q4,9 0,18 M993,1035 q4,10 0,20 M1026,1036 q4,9 0,18 M1031,1035 q4,10 0,20 M1059,1036 q4,9 0,18 M1064,1035 q4,10 0,20" fill="none"/>
</g>
<rect x="740" y="1128" width="62" height="15" fill="#e7c34f" stroke="#d2a93a"/>
<path d="M787,1128 Q795,1098 820,1100 Q840,1102 848,1118" fill="none" stroke="#d6a93a" stroke-width="1.8"/>
<rect x="835" y="1105" width="177" height="165" fill="#f0efe6" stroke="#cfcdb6" stroke-width="1.2"/>
<g>
 <g transform="translate(0,1136)">
  <line x1="843" y1="0" x2="994" y2="0" stroke="#4a5568" stroke-width="1.5"/><path d="M842,0 L849,-3.5 L849,3.5Z" fill="#4a5568"/>
  <rect x="862" y="-5" width="63" height="10" fill="#e7c34f" stroke="#d2a93a"/>
  <rect x="932" y="-5" width="41" height="10" fill="#8c97a8" stroke="#6a7482"/>
  <rect x="953" y="-5" width="5" height="10" fill="#e7c34f"/>
 </g>
 <g transform="translate(0,1188)">
  <line x1="843" y1="0" x2="994" y2="0" stroke="#4a5568" stroke-width="1.5"/><path d="M842,0 L849,-3.5 L849,3.5Z" fill="#4a5568"/>
  <rect x="862" y="-5" width="63" height="10" fill="#e7c34f" stroke="#d2a93a"/>
  <rect x="932" y="-5" width="41" height="10" fill="#8c97a8" stroke="#6a7482"/>
  <rect x="953" y="-5" width="5" height="10" fill="#e05a5a"/>
 </g>
 <g transform="translate(0,1246)">
  <line x1="843" y1="0" x2="994" y2="0" stroke="#4a5568" stroke-width="1.5"/><path d="M842,0 L849,-3.5 L849,3.5Z" fill="#4a5568"/>
  <rect x="862" y="-5" width="63" height="10" fill="#e7c34f" stroke="#d2a93a"/>
  <rect x="932" y="-5" width="41" height="10" fill="#8c97a8" stroke="#6a7482"/>
  <rect x="953" y="-5" width="5" height="10" fill="#4a5568"/>
 </g>
</g>
<g class="t"><text x="996" y="1141">A</text><text x="996" y="1193">B</text><text x="996" y="1251">D</text></g>
<g fill="#fff" stroke="#333" stroke-width="1.2">
 <rect x="1018" y="1105" width="61" height="50"/><rect x="1018" y="1162" width="61" height="50"/><rect x="1018" y="1220" width="61" height="50"/>
</g>
<g fill="#e8c04e">
 <rect x="1033" y="1144" width="2.6" height="11"/><rect x="1037" y="1133" width="2.6" height="22"/><rect x="1041" y="1122" width="2.6" height="33"/><rect x="1045" y="1111" width="2.6" height="44"/><rect x="1049" y="1118" width="2.6" height="37"/><rect x="1053" y="1127" width="2.6" height="28"/><rect x="1057" y="1141" width="2.6" height="14"/><rect x="1061" y="1147" width="2.6" height="8"/>
</g>
<g fill="#e05a5a"><rect x="1044" y="1204" width="2.6" height="8"/><rect x="1048" y="1190" width="2.6" height="22"/><rect x="1052" y="1200" width="2.6" height="12"/></g>
<g fill="#5a6478"><rect x="1036" y="1258" width="2.6" height="12"/><rect x="1040" y="1241" width="2.6" height="29"/><rect x="1044" y="1236" width="2.6" height="34"/><rect x="1048" y="1244" width="2.6" height="26"/><rect x="1052" y="1258" width="2.6" height="12"/></g>

<!-- AI box -->
<rect x="1103" y="1032" width="229" height="238" fill="#dde2e8"/>
<text x="1112" y="1054" font-size="16" font-weight="bold" textLength="209" lengthAdjust="spacingAndGlyphs">AI integration of single-cell</text>
<text x="1112" y="1073" font-size="16" font-weight="bold" textLength="203" lengthAdjust="spacingAndGlyphs">and spatial omics datasets</text>
<g class="t">
 <text x="1112" y="1092" textLength="187" lengthAdjust="spacingAndGlyphs">• Cell-type specific GRNs</text>
 <text x="1122" y="1111" textLength="71" lengthAdjust="spacingAndGlyphs">and ACRs</text>
 <text x="1112" y="1130" textLength="206" lengthAdjust="spacingAndGlyphs">• Subgenome divergence in</text>
 <text x="1122" y="1149" textLength="45" lengthAdjust="spacingAndGlyphs">wheat</text>
 <text x="1112" y="1167" textLength="195" lengthAdjust="spacingAndGlyphs">• Generative AI models for</text>
 <text x="1122" y="1186" textLength="118" lengthAdjust="spacingAndGlyphs">data integration</text>
 <text x="1112" y="1205" textLength="201" lengthAdjust="spacingAndGlyphs">• Cloud-based AI platforms</text>
 <text x="1122" y="1224" textLength="83" lengthAdjust="spacingAndGlyphs">using LLMs</text>
 <text x="1112" y="1242" textLength="198" lengthAdjust="spacingAndGlyphs">• AI enabled automation of</text>
 <text x="1122" y="1261" textLength="69" lengthAdjust="spacingAndGlyphs">workflow</text>
</g>
</svg>
</body></html>
